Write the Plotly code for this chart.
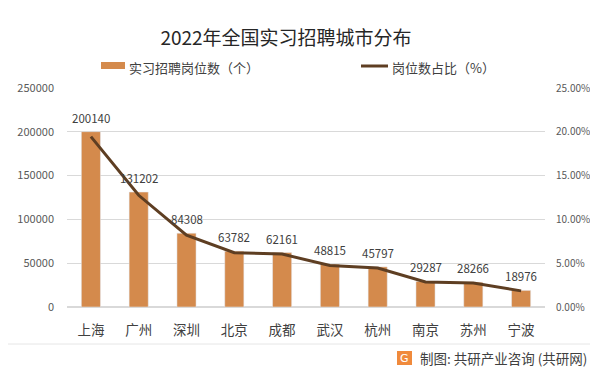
import plotly.graph_objects as go

cities = ["上海", "广州", "深圳", "北京", "成都", "武汉", "杭州", "南京", "苏州", "宁波"]
jobs = [200140, 131202, 84308, 63782, 62161, 48815, 45797, 29287, 28266, 18976]
share_pct = [19.45, 12.75, 8.19, 6.20, 6.04, 4.74, 4.45, 2.85, 2.75, 1.84]
bar_name = "实习招聘岗位数（个）"
line_name = "岗位数占比（%）"

FONT = "Noto Sans CJK SC"
BAR_C = "#D48A4C"
LINE_C = "#5E3E22"
# page body has an 8px margin; lay out in reference pixel coordinates and shift
OFF = 8
W, H = 598 - OFF, 377 - OFF
PL, PR, PT, PB = 67, 545, 88, 307  # plot area in reference pixels
L, R, T, B = PL - OFF, 598 - PR, PT - OFF, 377 - PB
PW, PH = PR - PL, PB - PT


def px(x):
    return (x - PL) / PW


def py(y):
    return (PB - y) / PH


fig = go.Figure()
fig.add_trace(go.Bar(
    x=cities, y=jobs, name=bar_name,
    marker=dict(color=BAR_C), width=0.4, showlegend=False,
))
fig.add_trace(go.Scatter(
    x=cities, y=[p / 100 for p in share_pct], name=line_name,
    yaxis="y2", mode="lines", showlegend=False,
    line=dict(color=LINE_C, width=3),
))

for c, v in zip(cities, jobs):
    fig.add_annotation(x=c, y=v, xref="x", yref="y", text=str(v),
                       showarrow=False, yanchor="middle", yshift=14,
                       font=dict(size=11.5, color="#404040", family=FONT))

# legend (drawn)
fig.add_shape(type="rect", xref="paper", yref="paper",
              x0=px(101), x1=px(125), y0=py(69), y1=py(62),
              fillcolor=BAR_C, line=dict(width=0))
fig.add_annotation(text=bar_name, xref="paper", yref="paper",
                   x=px(127), y=py(67), xanchor="left", yanchor="middle",
                   showarrow=False, font=dict(size=13, color="#404040", family=FONT))
fig.add_shape(type="line", xref="paper", yref="paper",
              x0=px(361), x1=px(388), y0=py(66), y1=py(66),
              line=dict(color=LINE_C, width=3))
fig.add_annotation(text=line_name, xref="paper", yref="paper",
                   x=px(390), y=py(67), xanchor="left", yanchor="middle",
                   showarrow=False, font=dict(size=13, color="#404040", family=FONT))

fig.update_layout(
    width=W, height=H,
    margin=dict(l=L, r=R, t=T, b=B, autoexpand=False),
    paper_bgcolor="white", plot_bgcolor="white",
    font=dict(family=FONT, color="#595959", size=11),
    title=dict(text="2022年全国实习招聘城市分布", x=px(286), xanchor="center",
               xref="paper", y=1 - (38 - OFF) / H, yanchor="middle",
               font=dict(size=19, color="#262626", family=FONT)),
    showlegend=False,
    xaxis=dict(showgrid=False, showline=False, ticks="", automargin=False,
               tickfont=dict(size=13.5, color="#404040", family=FONT),
               ticklabelstandoff=13),
    yaxis=dict(range=[0, 250000], dtick=50000, tickformat="d", automargin=False,
               showgrid=True, gridcolor="#D9D9D9", gridwidth=1,
               zeroline=True, zerolinecolor="#D9D9D9", showline=False,
               tickfont=dict(size=11, color="#595959"), ticklabelstandoff=12),
    yaxis2=dict(range=[0, 0.25], dtick=0.05, tickformat=".2%", automargin=False,
                overlaying="y", side="right", showgrid=False, zeroline=False,
                showline=False,
                tickfont=dict(size=10, color="#595959"), ticklabelstandoff=10),
)

# footer separator and credit
fig.add_shape(type="line", xref="paper", yref="paper",
              x0=px(8), x1=px(590), y0=py(344), y1=py(344),
              line=dict(color="#E6E6E6", width=1))
fig.add_shape(type="rect", xref="paper", yref="paper",
              x0=px(397), x1=px(412), y0=py(365), y1=py(351),
              fillcolor="#F08A3C", line=dict(width=0))
fig.add_annotation(text="G", xref="paper", yref="paper",
                   x=px(404.5), y=py(358), xanchor="center", yanchor="middle",
                   showarrow=False, font=dict(size=11, color="white", family="DejaVu Sans"))
fig.add_annotation(text="制图: 共研产业咨询 (共研网)", xref="paper", yref="paper",
                   x=px(418), y=py(358),
                   xanchor="left", yanchor="middle", showarrow=False,
                   font=dict(size=13.5, color="#404040", family=FONT))

fig.write_html("out.html")
